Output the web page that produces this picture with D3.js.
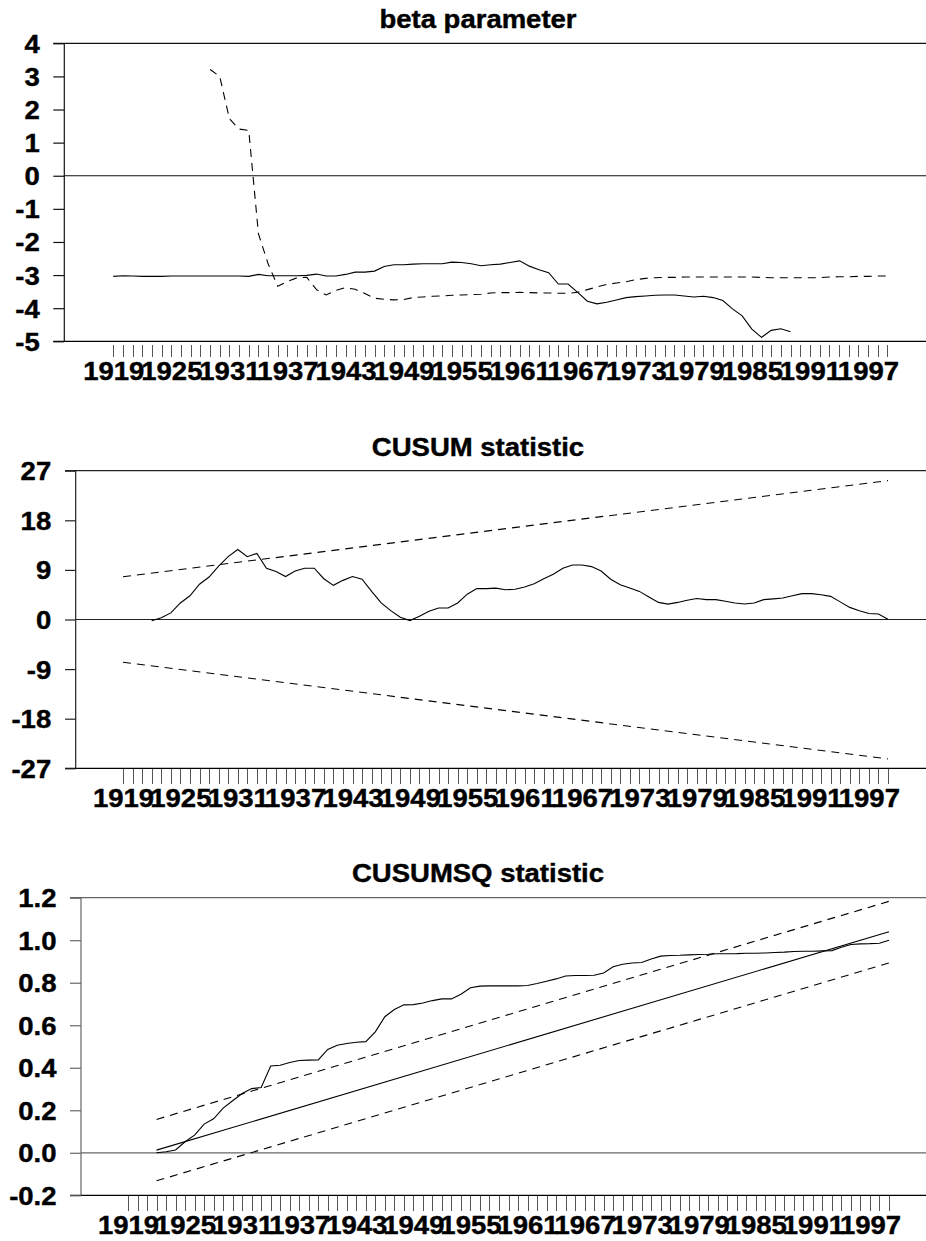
<!DOCTYPE html>
<html lang="en">
<head>
    <meta charset="UTF-8">
    <title>Recursive estimates: beta, CUSUM, CUSUMSQ</title>
    <style>
        body { margin: 0; background: #fff; }
        svg { display: block; }
        .title, .tick text {
            font-family: "Liberation Sans", Arial, sans-serif;
            font-weight: bold;
            fill: #000;
            stroke: #000;
            stroke-width: 0.4px;
        }
        .frame { stroke: #000; stroke-width: 1.2; }
        .series { fill: none; stroke: #000; stroke-width: 1.1; }
        .dashed { stroke-dasharray: 8,6; }
    </style>
</head>
<body>
    <svg id="chart" width="926" height="1241"></svg>

    <script src="https://d3js.org/d3.v7.min.js"></script>
    <script>
        // ---- data ----
        const years = d3.range(1919, 2000);            // one tick per year
        const labelYears = [1919, 1925, 1931, 1937, 1943, 1949, 1955,
                            1961, 1967, 1973, 1979, 1985, 1991, 1997];

        // panel 1: recursive beta estimates
        const betaSolidStart = 1919;
        const betaSolid = [
            -3.04, -3.02, -3.03, -3.04, -3.04, -3.04, -3.03, -3.03, -3.03, -3.03,
            -3.03, -3.03, -3.03, -3.03, -3.04, -2.98, -3.02, -3.02, -3.02, -3.02,
            -3.01, -2.97, -3.03, -3.03, -2.98, -2.91, -2.91, -2.88, -2.74, -2.69,
            -2.69, -2.67, -2.66, -2.66, -2.66, -2.61, -2.62, -2.66, -2.72, -2.69,
            -2.67, -2.62, -2.57, -2.73, -2.84, -2.93, -3.27, -3.27, -3.52, -3.79,
            -3.87, -3.82, -3.75, -3.68, -3.65, -3.63, -3.61, -3.60, -3.60, -3.63,
            -3.66, -3.64, -3.68, -3.77, -4.02, -4.23, -4.63, -4.88, -4.67, -4.62,
            -4.71
        ];
        const betaDashedStart = 1929;
        const betaDashed = [
             3.21,  3.00,  1.72,  1.41,  1.37, -1.75, -2.66, -3.34, -3.19, -3.08,
            -3.07, -3.44, -3.60, -3.46, -3.38, -3.43, -3.56, -3.70, -3.73, -3.75,
            -3.74, -3.68, -3.66, -3.64, -3.63, -3.61, -3.60, -3.59, -3.58, -3.54,
            -3.53, -3.53, -3.52, -3.53, -3.54, -3.54, -3.55, -3.55, -3.52, -3.44,
            -3.36, -3.28, -3.24, -3.20, -3.14, -3.10, -3.08, -3.07, -3.07, -3.06,
            -3.06, -3.06, -3.06, -3.06, -3.06, -3.06, -3.06, -3.07, -3.08, -3.08,
            -3.08, -3.08, -3.08, -3.08, -3.06, -3.05, -3.05, -3.04, -3.04, -3.03,
            -3.03
        ];
        const betaTicks = [4, 3, 2, 1, 0, -1, -2, -3, -4, -5];

        // panel 2: CUSUM
        const cusumStart = 1922;
        const cusum = [
            -0.24, 0.3, 1.2, 3.0, 4.3, 6.4, 7.7, 9.7, 11.4, 12.7,
            11.4, 12.0, 9.3, 8.7, 7.8, 8.8, 9.3, 9.3, 7.4, 6.2,
            7.1, 7.8, 7.3, 5.1, 3.0, 1.6, 0.4, -0.2, 0.6, 1.5,
            2.1, 2.1, 3.0, 4.6, 5.6, 5.6, 5.7, 5.4, 5.5, 5.9,
            6.5, 7.4, 8.2, 9.3, 9.9, 9.9, 9.6, 8.8, 7.3, 6.3,
            5.7, 5.1, 4.1, 3.1, 2.8, 3.1, 3.5, 3.8, 3.6, 3.6,
            3.3, 3.0, 2.8, 3.0, 3.6, 3.75, 3.9, 4.3, 4.7, 4.7,
            4.5, 4.2, 3.2, 2.2, 1.6, 1.1, 1.0, 0.05
        ];
        const cusumBandYears = [1919, 1999];
        const cusumUpper = [7.75, 25.2];
        const cusumLower = [-7.75, -25.3];
        const cusumTicks = [27, 18, 9, 0, -9, -18, -27];

        // panel 3: CUSUM of squares
        const cusumsqStart = 1922;
        const cusumsq = [
            0.000, 0.005, 0.013, 0.052, 0.083, 0.135, 0.160, 0.210, 0.245, 0.279,
            0.302, 0.307, 0.408, 0.412, 0.425, 0.434, 0.436, 0.437, 0.486, 0.506,
            0.514, 0.520, 0.523, 0.569, 0.640, 0.674, 0.696, 0.697, 0.705, 0.716,
            0.724, 0.724, 0.746, 0.776, 0.784, 0.785, 0.785, 0.785, 0.785, 0.787,
            0.796, 0.807, 0.818, 0.832, 0.834, 0.834, 0.835, 0.846, 0.875, 0.887,
            0.893, 0.895, 0.912, 0.925, 0.928, 0.929, 0.931, 0.933, 0.934, 0.936,
            0.936, 0.937, 0.939, 0.939, 0.940, 0.942, 0.944, 0.947, 0.948, 0.948,
            0.950, 0.951, 0.967, 0.980, 0.983, 0.984, 0.986, 1.000
        ];
        const sqLineYears = [1922, 1999];
        const sqExpected = [0.0125, 1.04];
        const sqUpper = [0.157, 1.183];
        const sqLower = [-0.132, 0.893];
        const cusumsqTicks = [1.2, 1.0, 0.8, 0.6, 0.4, 0.2, 0.0, -0.2];

        // ---- drawing ----
        const svg = d3.select("#chart");
        const W = +svg.attr("width");
        const FONT = 25, STRETCH = 1.1;    // the source text is a bit wide

        // plain hyphen for negatives, like the original
        const fmtInt = d => String(d);
        const fmtOne = d => d.toFixed(1);

        const toPoints = (start, vals) => vals.map((v, i) => [start + i, v]);
        const zipPoints = (yrs, vals) => vals.map((v, i) => [yrs[i], v]);

        function panel(cfg) {
            const g = svg.append("g");
            const x = d3.scaleLinear().domain([years[0], years[years.length - 1]]).range(cfg.xRange);
            const y = d3.scaleLinear().domain([d3.min(cfg.yTicks), d3.max(cfg.yTicks)])
                        .range([cfg.bottom, cfg.top]);

            g.append("text")
             .attr("class", "title")
             .attr("transform", `translate(478,${cfg.titleY}) scale(${STRETCH},1)`)
             .attr("text-anchor", "middle")
             .attr("font-size", FONT)
             .text(cfg.title);

            // frame: top, bottom, left, zero
            g.append("line").attr("class", "frame")
             .attr("x1", cfg.tickLeft).attr("x2", W).attr("y1", y(cfg.yTicks[0])).attr("y2", y(cfg.yTicks[0]))
             .style("stroke", cfg.frameColor);
            g.append("line").attr("class", "frame")
             .attr("x1", cfg.tickLeft).attr("x2", W)
             .attr("y1", y(cfg.yTicks[cfg.yTicks.length - 1])).attr("y2", y(cfg.yTicks[cfg.yTicks.length - 1]));
            g.append("line").attr("class", "frame")
             .attr("x1", cfg.axisX).attr("x2", cfg.axisX).attr("y1", cfg.top).attr("y2", cfg.bottom)
             .style("stroke", cfg.frameColor);
            g.append("line").attr("class", "frame")
             .attr("x1", cfg.axisX).attr("x2", W).attr("y1", y(0)).attr("y2", y(0))
             .style("stroke", cfg.frameColor);

            // y axis
            const tl = cfg.axisX - cfg.tickLeft;
            g.append("g")
             .attr("transform", `translate(${cfg.axisX},0)`)
             .call(d3.axisLeft(y).tickValues(cfg.yTicks).tickSize(tl).tickFormat(cfg.fmt))
             .call(a => a.select(".domain").remove())
             .call(a => a.selectAll(".tick line").attr("stroke", cfg.frameColor).attr("stroke-width", 1.2))
             .selectAll("text")
             .attr("x", null).attr("dy", null)
             .attr("font-size", FONT)
             .attr("transform", `translate(-24.5,${FONT * 0.36}) scale(${STRETCH},1)`);

            // x axis: a tick per year, a label every six years
            g.append("g")
             .attr("transform", `translate(0,${cfg.bottom + cfg.xTickGap})`)
             .call(d3.axisBottom(x).tickValues(years).tickSize(cfg.xTickLen)
                    .tickFormat(d => labelYears.includes(d) ? d : ""))
             .call(a => a.select(".domain").remove())
             .call(a => a.selectAll(".tick line")
                         .attr("stroke", "#555").attr("stroke-width", 1)
                         .attr("shape-rendering", "crispEdges"))
             .selectAll("text")
             .attr("y", null).attr("dy", null)
             .attr("font-size", FONT)
             .attr("transform", `translate(0,${38.5 - cfg.xTickGap}) scale(${STRETCH},1)`);

            const line = d3.line().x(d => x(d[0])).y(d => y(d[1]));
            cfg.series.forEach(s => {
                g.append("path")
                 .datum(s.points)
                 .attr("class", s.dashed ? "series dashed" : "series")
                 .attr("d", line);
            });
        }

        panel({
            title: "beta parameter", titleY: 28,
            top: 43.3, bottom: 341.3, axisX: 64.3, tickLeft: 53.3,
            xRange: [113.3, 887.3], xTickGap: 4, xTickLen: 11.5,
            yTicks: betaTicks, fmt: fmtInt, frameColor: "#111",
            series: [
                { points: toPoints(betaSolidStart, betaSolid) },
                { points: toPoints(betaDashedStart, betaDashed), dashed: true }
            ]
        });

        panel({
            title: "CUSUM statistic", titleY: 455.5,
            top: 470.7, bottom: 768.3, axisX: 75.7, tickLeft: 65,
            xRange: [123, 888], xTickGap: 1, xTickLen: 14.5,
            yTicks: cusumTicks, fmt: fmtInt, frameColor: "#222",
            series: [
                { points: toPoints(cusumStart, cusum) },
                { points: zipPoints(cusumBandYears, cusumUpper), dashed: true },
                { points: zipPoints(cusumBandYears, cusumLower), dashed: true }
            ]
        });

        panel({
            title: "CUSUMSQ statistic", titleY: 882.3,
            top: 897.7, bottom: 1195.3, axisX: 81, tickLeft: 70,
            xRange: [128, 889], xTickGap: 1, xTickLen: 14.5,
            yTicks: cusumsqTicks, fmt: fmtOne, frameColor: "#666",
            series: [
                { points: toPoints(cusumsqStart, cusumsq) },
                { points: zipPoints(sqLineYears, sqExpected) },
                { points: zipPoints(sqLineYears, sqUpper), dashed: true },
                { points: zipPoints(sqLineYears, sqLower), dashed: true }
            ]
        });
    </script>
</body>
</html>
